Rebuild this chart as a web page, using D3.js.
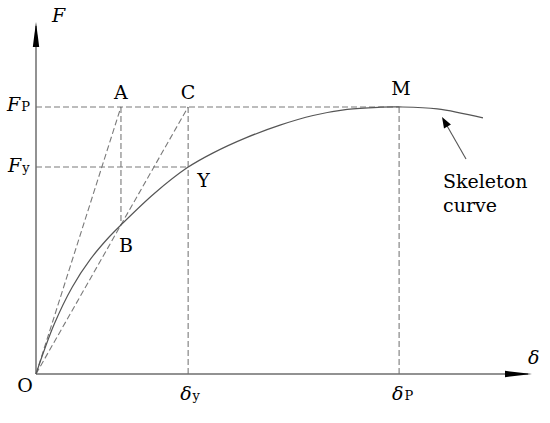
<!DOCTYPE html>
<html><head><meta charset="utf-8">
<script src="https://cdn.jsdelivr.net/npm/d3@7"></script>
<style>html,body{margin:0;padding:0;background:#fff;}svg{display:block;}</style>
</head><body>
<script>
// ---- data (normalised: deltaP = 1, Fp = 1) ----
const curveDelta = [0, 0.05, 0.10, 0.15, 0.20, 0.234, 0.325, 0.416, 0.488, 0.581, 0.672, 0.763, 0.857, 0.948, 1.0, 1.105, 1.231];
const curveForce = [0, 0.186, 0.326, 0.430, 0.511, 0.558, 0.675, 0.772, 0.828, 0.886, 0.932, 0.968, 0.991, 0.999, 1.0, 0.993, 0.959];
const deltaA = 0.234, deltaY = 0.419, deltaP = 1.0;
const forceP = 1.0, forceY = 0.775, forceB = 0.558;
const xMax = 1.366, yMax = 1.318;

const W = 550, H = 423;
const svg = d3.select("body").append("svg").attr("width", W).attr("height", H);
const x = d3.scaleLinear().domain([0, xMax]).range([36, 532]);
const y = d3.scaleLinear().domain([0, yMax]).range([374, 22]);

const axisCol = "#6e6e6e", dashCol = "#7a7a7a", curveCol = "#555";
const serif = "DejaVu Serif";

// dashed guide lines
const dashed = [
  [[0, forceP], [deltaP, forceP]],
  [[0, forceY], [deltaY, forceY]],
  [[deltaA, forceP], [deltaA, forceB]],
  [[deltaY, forceP], [deltaY, 0]],
  [[deltaP, forceP], [deltaP, 0]],
  [[0, 0], [deltaA, forceP]],
  [[0, 0], [deltaY, forceP]]
];
svg.selectAll("line.d").data(dashed).enter().append("line")
  .attr("x1", d => x(d[0][0])).attr("y1", d => y(d[0][1]))
  .attr("x2", d => x(d[1][0])).attr("y2", d => y(d[1][1]))
  .attr("stroke", dashCol).attr("stroke-width", 1.1).attr("stroke-dasharray", "6,3");

// axes
svg.append("line").attr("x1", x(0)).attr("y1", y(0)).attr("x2", x(xMax) - 4).attr("y2", y(0))
  .attr("stroke", axisCol).attr("stroke-width", 1.5);
svg.append("line").attr("x1", x(0)).attr("y1", y(0)).attr("x2", x(0)).attr("y2", y(yMax) + 4)
  .attr("stroke", axisCol).attr("stroke-width", 1.5);
// arrowheads
const tx = x(xMax), ty = y(0);
svg.append("path").attr("d", `M${tx},${ty} L${tx - 27},${ty - 3.2} L${tx - 27},${ty + 3.2} Z`).attr("fill", "#000");
const vx = x(0), vy = y(yMax);
svg.append("path").attr("d", `M${vx},${vy} L${vx - 3.2},${vy + 25} L${vx + 3.2},${vy + 25} Z`).attr("fill", "#000");

// skeleton curve
const pts = curveDelta.map((d, i) => [d, curveForce[i]]);
svg.append("path").datum(pts)
  .attr("d", d3.line().x(d => x(d[0])).y(d => y(d[1])).curve(d3.curveCatmullRom.alpha(0.5)))
  .attr("fill", "none").attr("stroke", curveCol).attr("stroke-width", 1.2);

// annotation arrow
const ax1 = 466, ay1 = 159, ax2 = 442, ay2 = 117;
svg.append("line").attr("x1", ax1).attr("y1", ay1).attr("x2", ax2 + 4).attr("y2", ay2 + 7)
  .attr("stroke", "#555").attr("stroke-width", 1.1);
{
  const ang = Math.atan2(ay2 - ay1, ax2 - ax1), L = 11, w = 4;
  const bx = ax2 - L * Math.cos(ang), by = ay2 - L * Math.sin(ang);
  const px = -Math.sin(ang) * w, py = Math.cos(ang) * w;
  svg.append("path").attr("d", `M${ax2},${ay2} L${bx + px},${by + py} L${bx - px},${by - py} Z`).attr("fill", "#000");
}

// point labels
const fs = 19;
function txt(s, px, py, anchor, style) {
  return svg.append("text").attr("x", px).attr("y", py).attr("text-anchor", anchor || "start")
    .attr("font-family", serif).attr("font-size", fs).attr("font-style", style || "normal").attr("fill", "#000").text(s);
}
txt("A", x(deltaA), 99, "middle");
txt("C", x(deltaY), 99, "middle");
txt("M", x(deltaP) + 2, 95, "middle");
txt("Y", x(deltaY) + 9, 187);
txt("B", x(deltaA) - 2, 252);
txt("O", 25, 392, "middle");
txt("F", 52, 22, "start", "italic");
txt("δ", 528, 364, "start", "italic");

function sub(main, s, px, py) {
  const t = svg.append("text").attr("x", px).attr("y", py).attr("font-family", serif).attr("font-size", fs).attr("fill", "#000");
  t.append("tspan").attr("font-style", "italic").text(main);
  t.append("tspan").attr("font-size", 13).attr("dx", 1).text(s);
}
sub("F", "P", 7, 111);
sub("F", "y", 8, 172);
sub("δ", "y", x(deltaY) - 8, 400);
sub("δ", "P", x(deltaP) - 7, 400);

txt("Skeleton", 443, 188).attr("font-size", 19);
txt("curve", 443, 212).attr("font-size", 19);
</script>
</body></html>
